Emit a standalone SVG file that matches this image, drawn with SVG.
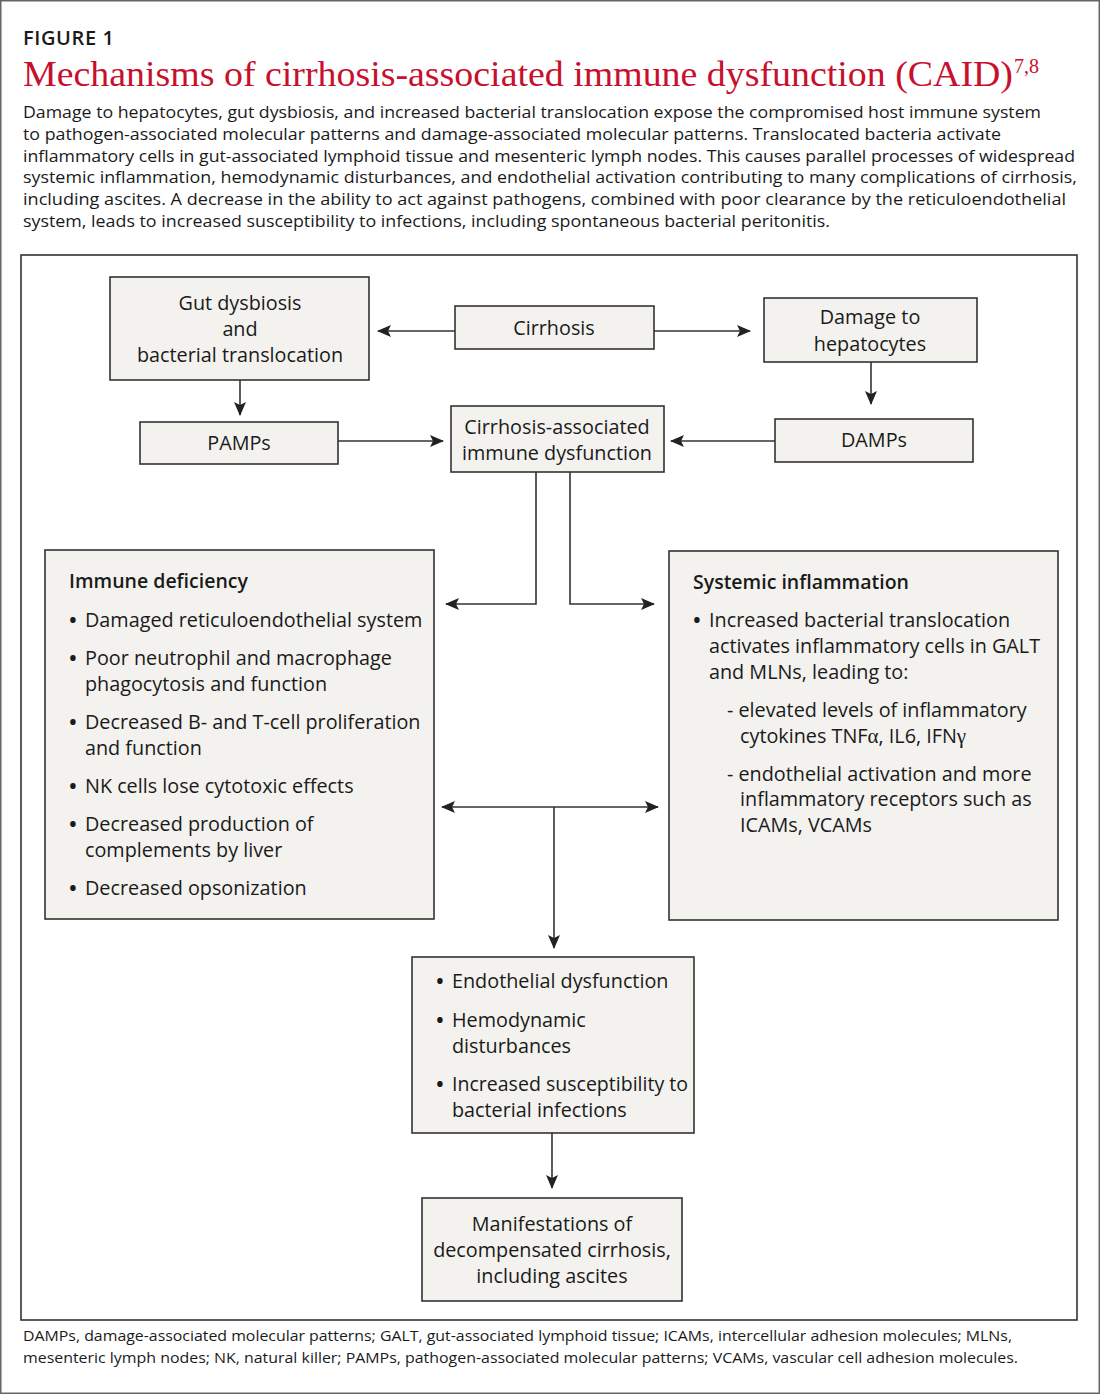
<svg xmlns="http://www.w3.org/2000/svg" width="1100" height="1394" viewBox="0 0 1100 1394">
<defs>
<marker id="ah" viewBox="0 0 14 12" refX="13" refY="6" markerWidth="14" markerHeight="12" markerUnits="userSpaceOnUse" orient="auto">
<path d="M0,0 L14,6 L0,12 L3,6 Z" fill="#222"/>
</marker>
<style>
.box{fill:#f3f2ee;stroke:#333;stroke-width:1.6}
.t{font-family:"Open Sans","Noto Sans","Liberation Sans",sans-serif;font-size:19.8px;fill:#1a1a1a}
.c{text-anchor:middle}
.b{font-weight:600;font-size:19.5px}
.u{font-size:26px}
.g{font-family:"Liberation Serif",serif;font-size:21px}
.p{font-family:"Open Sans","Noto Sans","Liberation Sans",sans-serif;font-size:16.5px;fill:#1a1a1a}
.f{font-family:"Open Sans","Noto Sans","Liberation Sans",sans-serif;font-size:14.5px;fill:#1a1a1a}
.ln{fill:none;stroke:#333;stroke-width:1.6}
</style>
</defs>
<rect x="0" y="0" width="1100" height="1394" fill="#fff"/>
<rect x="0.75" y="0.75" width="1098.5" height="1392.5" fill="none" stroke="#666" stroke-width="1.5"/>
<g id="header">
<text x="23" y="45" font-family="'Open Sans','Liberation Sans',sans-serif" font-size="20" font-weight="600" letter-spacing="0.6" fill="#1a1a1a">FIGURE 1</text>
<text x="23" y="86" font-family="'Liberation Serif',serif" font-size="36" fill="#c8102e" textLength="990" lengthAdjust="spacingAndGlyphs">Mechanisms of cirrhosis-associated immune dysfunction (CAID)</text>
<text x="1014" y="73" font-family="'Liberation Serif',serif" font-size="20" fill="#c8102e">7,8</text>
<text class="p" x="23" y="118" textLength="1018" lengthAdjust="spacingAndGlyphs">Damage to hepatocytes, gut dysbiosis, and increased bacterial translocation expose the compromised host immune system</text>
<text class="p" x="23" y="140" textLength="978" lengthAdjust="spacingAndGlyphs">to pathogen-associated molecular patterns and damage-associated molecular patterns. Translocated bacteria activate</text>
<text class="p" x="23" y="162" textLength="1052" lengthAdjust="spacingAndGlyphs">inflammatory cells in gut-associated lymphoid tissue and mesenteric lymph nodes. This causes parallel processes of widespread</text>
<text class="p" x="23" y="183" textLength="1054" lengthAdjust="spacingAndGlyphs">systemic inflammation, hemodynamic disturbances, and endothelial activation contributing to many complications of cirrhosis,</text>
<text class="p" x="23" y="205" textLength="1043" lengthAdjust="spacingAndGlyphs">including ascites. A decrease in the ability to act against pathogens, combined with poor clearance by the reticuloendothelial</text>
<text class="p" x="23" y="227" textLength="807" lengthAdjust="spacingAndGlyphs">system, leads to increased susceptibility to infections, including spontaneous bacterial peritonitis.</text>
</g>
<rect id="frame" x="21" y="255" width="1056" height="1065" fill="none" stroke="#333" stroke-width="1.6"/>
<g id="connectors">
<line class="ln" x1="455" y1="331" x2="378" y2="331" marker-end="url(#ah)"/>
<line class="ln" x1="654" y1="331" x2="750" y2="331" marker-end="url(#ah)"/>
<line class="ln" x1="240" y1="380" x2="240" y2="415" marker-end="url(#ah)"/>
<line class="ln" x1="871" y1="362" x2="871" y2="404" marker-end="url(#ah)"/>
<line class="ln" x1="338" y1="441" x2="443" y2="441" marker-end="url(#ah)"/>
<line class="ln" x1="775" y1="441" x2="671" y2="441" marker-end="url(#ah)"/>
<polyline class="ln" points="536,472 536,604 446,604" marker-end="url(#ah)"/>
<polyline class="ln" points="570,472 570,604 654,604" marker-end="url(#ah)"/>
<line class="ln" x1="554" y1="807" x2="442" y2="807" marker-end="url(#ah)"/>
<line class="ln" x1="554" y1="807" x2="658" y2="807" marker-end="url(#ah)"/>
<line class="ln" x1="554" y1="807" x2="554" y2="948" marker-end="url(#ah)"/>
<line class="ln" x1="552" y1="1133" x2="552" y2="1188" marker-end="url(#ah)"/>
</g>
<g id="gut">
<rect class="box" x="110" y="277" width="259" height="103"/>
<text class="t c" x="240" y="310">Gut dysbiosis</text>
<text class="t c" x="240" y="336">and</text>
<text class="t c" x="240" y="362">bacterial translocation</text>
</g>
<g id="cirrhosis">
<rect class="box" x="455" y="306" width="199" height="43"/>
<text class="t c" x="554" y="335">Cirrhosis</text>
</g>
<g id="damage">
<rect class="box" x="764" y="298" width="213" height="64"/>
<text class="t c" x="870" y="324">Damage to</text>
<text class="t c" x="870" y="351">hepatocytes</text>
</g>
<g id="pamps">
<rect class="box" x="140" y="422" width="198" height="42"/>
<text class="t c" x="239" y="450">PAMPs</text>
</g>
<g id="caid">
<rect class="box" x="451" y="406" width="213" height="66"/>
<text class="t c" x="557" y="434">Cirrhosis-associated</text>
<text class="t c" x="557" y="460">immune dysfunction</text>
</g>
<g id="damps">
<rect class="box" x="775" y="419" width="198" height="43"/>
<text class="t c" x="874" y="447">DAMPs</text>
</g>
<g id="immune">
<rect class="box" x="45" y="550" width="389" height="369"/>
<text class="t b" x="69" y="588">Immune deficiency</text>
<text class="t u" x="68" y="629">•</text><text class="t" x="85" y="627">Damaged reticuloendothelial system</text>
<text class="t u" x="68" y="667">•</text><text class="t" x="85" y="665">Poor neutrophil and macrophage</text>
<text class="t" x="85" y="691">phagocytosis and function</text>
<text class="t u" x="68" y="731">•</text><text class="t" x="85" y="729">Decreased B- and T-cell proliferation</text>
<text class="t" x="85" y="755">and function</text>
<text class="t u" x="68" y="795">•</text><text class="t" x="85" y="793">NK cells lose cytotoxic effects</text>
<text class="t u" x="68" y="833">•</text><text class="t" x="85" y="831">Decreased production of</text>
<text class="t" x="85" y="857">complements by liver</text>
<text class="t u" x="68" y="897">•</text><text class="t" x="85" y="895">Decreased opsonization</text>
</g>
<g id="systemic">
<rect class="box" x="669" y="551" width="389" height="369"/>
<text class="t b" x="693" y="589">Systemic inflammation</text>
<text class="t u" x="692" y="629">•</text><text class="t" x="709" y="627">Increased bacterial translocation</text>
<text class="t" x="709" y="653">activates inflammatory cells in GALT</text>
<text class="t" x="709" y="679">and MLNs, leading to:</text>
<text class="t" x="727" y="717">- elevated levels of inflammatory</text>
<text class="t" x="740" y="743">cytokines TNF<tspan class="g">α</tspan>, IL6, IFN<tspan class="g">γ</tspan></text>
<text class="t" x="727" y="781">- endothelial activation and more</text>
<text class="t" x="740" y="806">inflammatory receptors such as</text>
<text class="t" x="740" y="832">ICAMs, VCAMs</text>
</g>
<g id="endothelial">
<rect class="box" x="412" y="957" width="282" height="176"/>
<text class="t u" x="435" y="990">•</text><text class="t" x="452" y="988">Endothelial dysfunction</text>
<text class="t u" x="435" y="1029">•</text><text class="t" x="452" y="1027">Hemodynamic</text>
<text class="t" x="452" y="1053">disturbances</text>
<text class="t u" x="435" y="1093">•</text><text class="t" x="452" y="1091" textLength="236" lengthAdjust="spacingAndGlyphs">Increased susceptibility to</text>
<text class="t" x="452" y="1117">bacterial infections</text>
</g>
<g id="manifestations">
<rect class="box" x="422" y="1198" width="260" height="103"/>
<text class="t c" x="552" y="1231">Manifestations of</text>
<text class="t c" x="552" y="1257">decompensated cirrhosis,</text>
<text class="t c" x="552" y="1283">including ascites</text>
</g>
<g id="footnote">
<text class="f" x="23" y="1341" textLength="989" lengthAdjust="spacingAndGlyphs">DAMPs, damage-associated molecular patterns; GALT, gut-associated lymphoid tissue; ICAMs, intercellular adhesion molecules; MLNs,</text>
<text class="f" x="23" y="1363" textLength="995" lengthAdjust="spacingAndGlyphs">mesenteric lymph nodes; NK, natural killer; PAMPs, pathogen-associated molecular patterns; VCAMs, vascular cell adhesion molecules.</text>
</g>
</svg>
